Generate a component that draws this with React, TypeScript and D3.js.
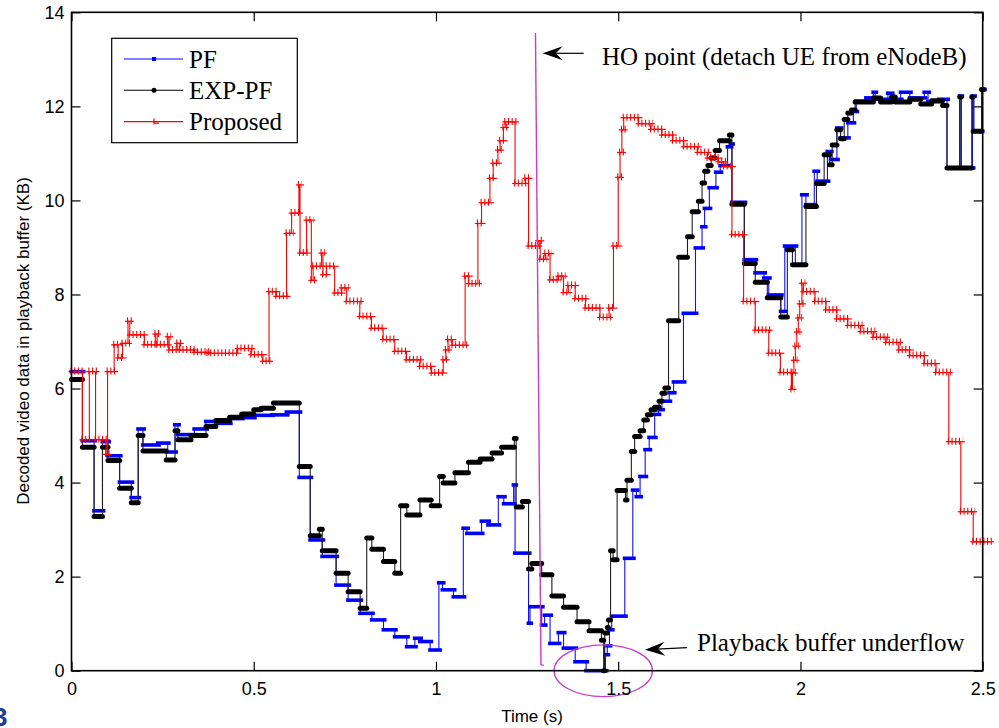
import React, { useEffect, useRef } from 'react';
import * as d3 from 'd3';

type Pt = [number, number];

const xTicks = [0, 0.5, 1, 1.5, 2, 2.5];
const yTicks = [0, 2, 4, 6, 8, 10, 12, 14];
const seriesNames = ['PF', 'EXP-PF', 'Proposed'];

// each point = [time where a step starts, buffer level]; last point closes the series
const pf: Pt[] = [
  [0, 6.36], [0.03, 4.89], [0.062, 3.4], [0.085, 4.87], [0.1, 4.57], [0.132, 4.01], [0.164, 3.68],
  [0.183, 5.14], [0.196, 4.8], [0.237, 4.84], [0.264, 4.65], [0.284, 5.23], [0.292, 5.02], [0.337, 5.14],
  [0.369, 5.3], [0.396, 5.26], [0.434, 5.36], [0.467, 5.38], [0.5, 5.43], [0.55, 5.44], [0.59, 5.5],
  [0.625, 4.11], [0.655, 2.78], [0.688, 2.43], [0.726, 1.82], [0.759, 1.5], [0.792, 1.22], [0.824, 1.08],
  [0.856, 0.87], [0.887, 0.72], [0.92, 0.51], [0.942, 0.69], [0.956, 0.62], [0.984, 0.44], [1.008, 1.87],
  [1.018, 1.72], [1.048, 1.57], [1.075, 3.03], [1.085, 2.92], [1.125, 3.18], [1.143, 3.1], [1.171, 3.7],
  [1.186, 3.55], [1.213, 3.95], [1.217, 2.5], [1.254, 1.01], [1.258, 1.36], [1.29, 0.97], [1.298, 1.18],
  [1.313, 0.58], [1.336, 0.81], [1.35, 0.48], [1.382, 0.19], [1.412, 0.0], [1.465, 0.34], [1.47, 0.53],
  [1.476, 0.87], [1.482, 1.16], [1.518, 2.39], [1.54, 3.84], [1.55, 3.7], [1.56, 4.13], [1.574, 4.7],
  [1.585, 4.96], [1.6, 5.45], [1.61, 5.55], [1.62, 5.73], [1.64, 5.91], [1.652, 6.14], [1.679, 7.6],
  [1.712, 8.99], [1.73, 9.44], [1.737, 9.83], [1.75, 10.27], [1.768, 10.6], [1.78, 10.74], [1.8, 11.14],
  [1.808, 11.2], [1.812, 9.96], [1.846, 8.74], [1.876, 8.46], [1.9, 8.35], [1.913, 7.99], [1.946, 7.64],
  [1.957, 9.03], [1.986, 8.63], [2.004, 10.12], [2.015, 9.91], [2.038, 10.62], [2.046, 10.41],
  [2.074, 11.04], [2.083, 10.87], [2.1, 11.54], [2.11, 11.33], [2.13, 11.65], [2.145, 11.89],
  [2.153, 12.11], [2.18, 12.18], [2.2, 12.3], [2.205, 12.15], [2.24, 12.28], [2.25, 12.15], [2.275, 12.3],
  [2.3, 12.18], [2.34, 12.3], [2.35, 12.1], [2.38, 12.15], [2.402, 10.69], [2.437, 12.22], [2.441, 10.69],
  [2.472, 12.22], [2.476, 11.47], [2.497, 12.36], [2.503, 12.36],
];

const expPf: Pt[] = [
  [0, 6.19], [0.03, 4.75], [0.062, 3.28], [0.085, 4.75], [0.1, 4.47], [0.132, 3.88], [0.164, 3.57],
  [0.183, 5.0], [0.196, 4.67], [0.26, 4.48], [0.284, 5.1], [0.292, 4.91], [0.328, 5.0], [0.369, 5.19],
  [0.396, 5.32], [0.434, 5.39], [0.467, 5.46], [0.5, 5.55], [0.52, 5.58], [0.554, 5.69], [0.625, 4.34],
  [0.655, 2.87], [0.68, 3.01], [0.688, 2.55], [0.726, 2.07], [0.759, 1.68], [0.792, 1.33], [0.81, 2.82],
  [0.824, 2.58], [0.856, 2.32], [0.887, 2.07], [0.903, 3.51], [0.92, 3.31], [0.956, 3.63], [0.987, 3.51],
  [1.01, 4.13], [1.02, 3.99], [1.052, 4.21], [1.089, 4.43], [1.121, 4.5], [1.154, 4.63], [1.18, 4.75],
  [1.215, 4.94], [1.22, 3.48], [1.237, 3.6], [1.254, 2.16], [1.263, 2.28], [1.29, 2.04], [1.318, 1.59],
  [1.35, 1.35], [1.387, 1.04], [1.42, 0.85], [1.454, 0.65], [1.46, 0.0], [1.463, 0.8], [1.47, 0.92],
  [1.473, 1.08], [1.479, 2.55], [1.486, 2.36], [1.497, 3.83], [1.52, 3.63], [1.524, 4.05], [1.536, 4.66],
  [1.545, 4.98], [1.56, 5.1], [1.57, 5.33], [1.58, 5.44], [1.59, 5.55], [1.6, 5.6], [1.612, 5.73],
  [1.62, 5.9], [1.628, 6.01], [1.638, 7.44], [1.666, 8.79], [1.69, 9.23], [1.703, 9.76], [1.72, 9.98],
  [1.73, 10.37], [1.737, 10.62], [1.746, 10.74], [1.755, 10.9], [1.766, 11.06], [1.778, 11.27],
  [1.805, 11.39], [1.812, 9.92], [1.846, 8.66], [1.876, 8.26], [1.909, 7.93], [1.946, 7.52], [1.964, 8.95],
  [1.978, 8.63], [2.015, 9.87], [2.044, 10.36], [2.065, 10.97], [2.08, 10.76], [2.087, 11.18], [2.1, 11.5],
  [2.11, 11.31], [2.12, 11.72], [2.13, 11.86], [2.14, 11.92], [2.15, 12.09], [2.2, 12.18], [2.22, 12.09],
  [2.25, 12.2], [2.26, 12.09], [2.3, 12.15], [2.33, 12.05], [2.36, 12.12], [2.39, 12.02], [2.402, 10.69],
  [2.437, 12.2], [2.441, 10.69], [2.47, 12.2], [2.474, 11.47], [2.497, 12.36], [2.503, 12.36],
];

const proposed: Pt[] = [
  [0, 6.36], [0.03, 4.91], [0.049, 6.36], [0.066, 4.91], [0.095, 4.6], [0.099, 6.36], [0.117, 6.93],
  [0.128, 6.65], [0.14, 6.96], [0.155, 7.43], [0.16, 7.14], [0.2, 6.93], [0.23, 7.16], [0.235, 6.93],
  [0.264, 7.1], [0.268, 6.82], [0.29, 6.96], [0.297, 6.82], [0.337, 6.77], [0.373, 6.75], [0.456, 6.85],
  [0.493, 6.72], [0.525, 6.58], [0.542, 8.06], [0.562, 7.96], [0.59, 9.3], [0.604, 9.73], [0.624, 10.33],
  [0.627, 8.88], [0.645, 9.58], [0.658, 8.3], [0.663, 8.6], [0.686, 8.88], [0.69, 8.42], [0.7, 8.6],
  [0.722, 8.03], [0.741, 8.14], [0.755, 7.85], [0.791, 7.53], [0.823, 7.28], [0.855, 7.04], [0.887, 6.79],
  [0.919, 6.61], [0.956, 6.47], [0.988, 6.33], [1.02, 6.61], [1.027, 6.82], [1.033, 7.04], [1.045, 6.92],
  [1.08, 8.39], [1.09, 8.23], [1.115, 9.51], [1.125, 9.95], [1.148, 10.47], [1.157, 10.79], [1.17, 11.07],
  [1.176, 11.27], [1.185, 11.55], [1.19, 11.67], [1.217, 10.36], [1.245, 10.47], [1.254, 9.03],
  [1.28, 9.14], [1.286, 8.75], [1.3, 8.87], [1.313, 8.31], [1.336, 8.39], [1.35, 8.04], [1.363, 8.19],
  [1.382, 7.91], [1.41, 7.71], [1.45, 7.51], [1.475, 7.71], [1.487, 9.03], [1.5, 10.49], [1.505, 11.02],
  [1.51, 11.5], [1.515, 11.76], [1.556, 11.63], [1.59, 11.51], [1.62, 11.39], [1.65, 11.27], [1.68, 11.14],
  [1.718, 11.02], [1.745, 10.9], [1.775, 10.82], [1.79, 10.72], [1.812, 9.27], [1.844, 7.85],
  [1.876, 7.24], [1.913, 6.75], [1.945, 6.34], [1.975, 5.98], [1.978, 6.33], [1.982, 6.6], [1.986, 6.9],
  [1.99, 7.2], [1.994, 7.5], [1.998, 7.8], [2.004, 8.24], [2.008, 8.06], [2.04, 7.85], [2.07, 7.67],
  [2.1, 7.48], [2.13, 7.34], [2.165, 7.21], [2.2, 7.09], [2.235, 6.98], [2.27, 6.82], [2.3, 6.7],
  [2.34, 6.53], [2.372, 6.34], [2.407, 4.87], [2.44, 3.38], [2.474, 2.74], [2.52, 2.74],
];

// handover marker (slightly slanted line in the original)
const hoLine: Pt[] = [[1.273, 13.56], [1.288, 0.12]];

export default function App() {
  const ref = useRef<SVGSVGElement>(null);

  useEffect(() => {
    const svg = d3.select(ref.current);
    svg.selectAll('*').remove();

    const x = d3.scaleLinear().domain([0, 2.5]).range([71.5, 982.7]);
    const y = d3.scaleLinear().domain([0, 14]).range([670.7, 12.3]);
    const sans = 'Liberation Sans, Arial, sans-serif';
    const serif = 'Liberation Serif, Times New Roman, serif';

    svg.append('rect').attr('width', 999).attr('height', 728).attr('fill', '#fff');

    const line = d3.line<Pt>().x(d => x(d[0])).y(d => y(d[1])).curve(d3.curveStepAfter);
    const segs = (data: Pt[]) => d3.pairs(data).map(([a, b]) => ({ t0: a[0], t1: b[0], v: a[1] }));

    const plot = svg.append('g');

    // PF
    plot.append('path').datum(pf).attr('d', line).attr('fill', 'none')
      .attr('stroke', '#1010ff').attr('stroke-width', 1.1);
    plot.selectAll('.pfm').data(segs(pf)).enter().append('line')
      .attr('x1', d => x(d.t0) - 2).attr('x2', d => x(d.t1) + 3)
      .attr('y1', d => y(d.v)).attr('y2', d => y(d.v))
      .attr('stroke', '#0000ff').attr('stroke-width', 3.6);

    // EXP-PF
    plot.append('path').datum(expPf).attr('d', line).attr('fill', 'none')
      .attr('stroke', '#222').attr('stroke-width', 1.1);
    plot.selectAll('.exm').data(segs(expPf)).enter().append('line')
      .attr('x1', d => x(d.t0)).attr('x2', d => x(d.t1))
      .attr('y1', d => y(d.v)).attr('y2', d => y(d.v))
      .attr('stroke', '#000').attr('stroke-width', 5).attr('stroke-linecap', 'round');

    // Proposed
    plot.append('path').datum(proposed).attr('d', line).attr('fill', 'none')
      .attr('stroke', '#ff0000').attr('stroke-width', 1.1);
    const pm = plot.selectAll('.prm').data(segs(proposed)).enter().append('g');
    pm.append('line')
      .attr('x1', d => x(d.t0) - 3).attr('x2', d => x(d.t1) + 4)
      .attr('y1', d => y(d.v)).attr('y2', d => y(d.v))
      .attr('stroke', '#ff0000').attr('stroke-width', 1.2);
    pm.append('line')
      .attr('x1', d => x(d.t0) - 1).attr('x2', d => x(d.t1) + 2)
      .attr('y1', d => y(d.v) - 0.5).attr('y2', d => y(d.v) - 0.5)
      .attr('stroke', '#ff0000').attr('stroke-width', 7).attr('stroke-dasharray', '1.1 2.6');

    // HO line
    svg.append('path').datum(hoLine)
      .attr('d', d3.line<Pt>().x(d => x(d[0])).y(d => y(d[1])))
      .attr('fill', 'none').attr('stroke', '#c83cc8').attr('stroke-width', 1.4);
    svg.append('line')
      .attr('x1', x(hoLine[1][0])).attr('x2', x(hoLine[1][0]) + 3)
      .attr('y1', y(hoLine[1][1])).attr('y2', y(hoLine[1][1]))
      .attr('stroke', '#c83cc8').attr('stroke-width', 1.2);

    // underflow ellipse
    svg.append('ellipse')
      .attr('cx', x(1.459)).attr('cy', y(0))
      .attr('rx', x(0.135) - x(0)).attr('ry', y(0) - y(0.55))
      .attr('fill', 'none').attr('stroke', '#c83cc8').attr('stroke-width', 1.3);

    // frame and ticks
    const axisStyle = (g: d3.Selection<SVGGElement, unknown, null, undefined>) => {
      g.select('.domain').remove();
      g.attr('font-family', sans).attr('font-size', 18);
      g.selectAll('line').attr('stroke', '#000').attr('stroke-width', 1.2);
      g.selectAll('text').attr('fill', '#000');
    };
    svg.append('g').attr('transform', `translate(0,${y(0)})`)
      .call(d3.axisBottom(x).tickValues(xTicks).tickSizeInner(-9).tickSizeOuter(0).tickPadding(12)
        .tickFormat(d => String(d)))
      .call(axisStyle);
    svg.append('g').attr('transform', `translate(0,${y(14)})`)
      .call(d3.axisTop(x).tickValues(xTicks).tickSizeInner(-9).tickSizeOuter(0).tickFormat(() => ''))
      .call(axisStyle);
    svg.append('g').attr('transform', `translate(${x(0)},0)`)
      .call(d3.axisLeft(y).tickValues(yTicks).tickSizeInner(-9).tickSizeOuter(0).tickPadding(7)
        .tickFormat(d => String(d)))
      .call(axisStyle);
    svg.append('g').attr('transform', `translate(${x(2.5)},0)`)
      .call(d3.axisRight(y).tickValues(yTicks).tickSizeInner(-9).tickSizeOuter(0).tickFormat(() => ''))
      .call(axisStyle);
    svg.append('rect')
      .attr('x', x(0)).attr('y', y(14)).attr('width', x(2.5) - x(0)).attr('height', y(0) - y(14))
      .attr('fill', 'none').attr('stroke', '#000').attr('stroke-width', 1.6);

    // axis titles
    svg.append('text').attr('x', 532).attr('y', 722).attr('text-anchor', 'middle')
      .attr('font-family', sans).attr('font-size', 17).text('Time (s)');
    svg.append('text').attr('transform', 'translate(29,341) rotate(-90)').attr('text-anchor', 'middle')
      .attr('font-family', sans).attr('font-size', 17).text('Decoded video data in playback buffer (KB)');

    // arrows + annotations
    const arrow = (tx: number, ty: number, len: number, angle: number) => {
      const g = svg.append('g').attr('transform', `translate(${tx},${ty}) rotate(${angle})`);
      g.append('line').attr('x1', 12).attr('x2', len).attr('y1', 0).attr('y2', 0)
        .attr('stroke', '#000').attr('stroke-width', 1.2);
      g.append('path').attr('d', 'M0,0 L20,-7 L13,0 L20,7 Z').attr('fill', '#000');
    };
    arrow(542.7, 53.3, 41, 0);
    svg.append('text').attr('x', 602).attr('y', 65).attr('font-family', serif).attr('font-size', 25)
      .text('HO point (detach UE from eNodeB)');
    arrow(645, 649.8, 42, -3);
    svg.append('text').attr('x', 697).attr('y', 650.5).attr('font-family', serif).attr('font-size', 25)
      .text('Playback buffer underflow');

    // legend
    const lg = svg.append('g');
    lg.append('rect').attr('x', 111.7).attr('y', 38.3).attr('width', 185.6).attr('height', 104.4)
      .attr('fill', '#fff').attr('stroke', '#000').attr('stroke-width', 1.2);
    const colors = ['#0000ff', '#000', '#ff0000'];
    seriesNames.forEach((name, i) => {
      const ly = 59 + i * 31.3;
      lg.append('line').attr('x1', 124).attr('x2', 183).attr('y1', ly).attr('y2', ly)
        .attr('stroke', colors[i]).attr('stroke-width', 1.1);
      if (i === 0) {
        lg.append('rect').attr('x', 152).attr('y', ly - 2).attr('width', 4).attr('height', 4).attr('fill', colors[i]);
      } else if (i === 1) {
        lg.append('circle').attr('cx', 154).attr('cy', ly).attr('r', 2.5).attr('fill', colors[i]);
      } else {
        lg.append('path').attr('d', `M154,${ly - 3} V${ly + 3} M154,${ly + 1.5} H159`)
          .attr('stroke', colors[i]).attr('stroke-width', 1.2).attr('fill', 'none');
      }
      lg.append('text').attr('x', 189).attr('y', ly + 8.5).attr('font-family', serif).attr('font-size', 25)
        .text(name);
    });

    // clipped glyph at the bottom-left corner of the original
    svg.append('text').attr('x', -7).attr('y', 726).attr('font-family', sans).attr('font-size', 26)
      .attr('font-weight', 'bold').attr('fill', '#1c3f94').text('3');
  }, []);

  return (
    <svg ref={ref} width={999} height={728}
      style={{ position: 'absolute', left: 0, top: 0, display: 'block', background: '#fff' }} />
  );
}
